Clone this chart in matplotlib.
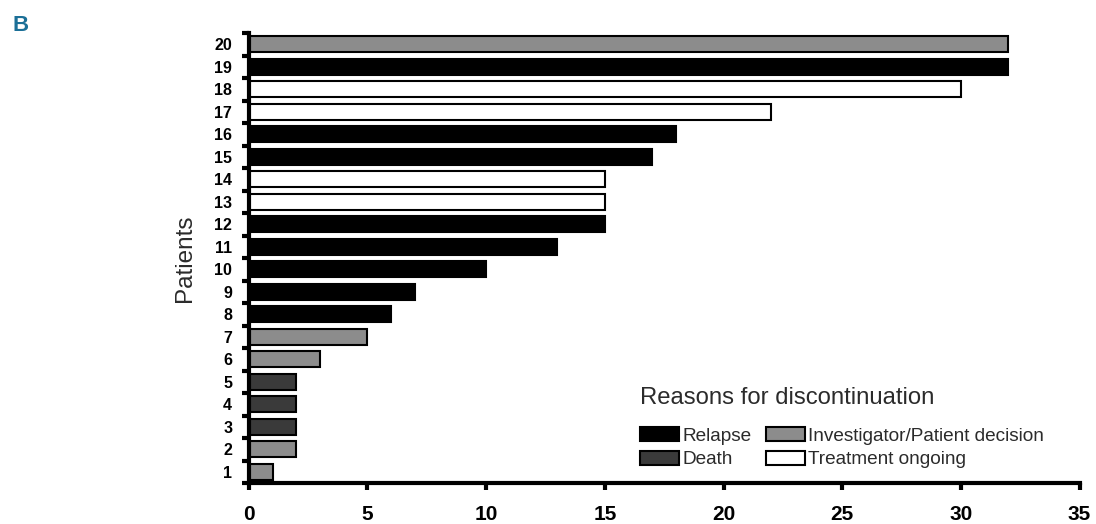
import matplotlib.pyplot as plt
from matplotlib.patches import Patch
from matplotlib.ticker import MultipleLocator, FixedLocator

patients = list(range(1, 21))
months = [1, 2, 2, 2, 2, 3, 5, 6, 7, 10, 13, 15, 15, 15, 17, 18, 22, 30, 32, 32]
reasons = ['inv', 'inv', 'death', 'death', 'death', 'inv', 'inv',
           'relapse', 'relapse', 'relapse', 'relapse', 'relapse',
           'ongoing', 'ongoing', 'relapse', 'relapse', 'ongoing', 'ongoing',
           'relapse', 'inv']

colors = {'relapse': '#000000', 'death': '#3a3a3a', 'inv': '#8c8c8c', 'ongoing': '#ffffff'}
labels = {'relapse': 'Relapse', 'death': 'Death',
          'inv': 'Investigator/Patient decision', 'ongoing': 'Treatment ongoing'}

plt.rcParams['font.family'] = 'Liberation Sans'
text_grey = '#2b2b2b'

fig = plt.figure(figsize=(10.96, 5.24), dpi=100)
ax = fig.add_axes([0.227, 0.078, 0.758, 0.859])

ax.barh(patients, months, height=0.72, color=[colors[r] for r in reasons],
        edgecolor='black', linewidth=1.5)

ax.set_xlim(0, 35)
ax.set_ylim(0.5, 20.5)
ax.xaxis.set_major_locator(MultipleLocator(5))
ax.set_yticks(patients)
ax.yaxis.set_minor_locator(FixedLocator([p + 0.5 for p in range(0, 21)]))

for s in ['top', 'right']:
    ax.spines[s].set_visible(False)
for s in ['left', 'bottom']:
    ax.spines[s].set_linewidth(3)

ax.tick_params(axis='x', direction='out', length=5, width=3, pad=10.5)
ax.tick_params(axis='y', which='major', length=0, pad=12)
ax.tick_params(axis='y', which='minor', direction='out', length=5, width=3)
for t in ax.get_xticklabels():
    t.set_fontweight('bold')
    t.set_fontsize(15)
for t in ax.get_yticklabels():
    t.set_fontweight('bold')
    t.set_fontsize(11.5)

ax.set_ylabel('Patients', fontsize=17.5, color=text_grey)
ax.yaxis.set_label_coords(-0.063, 0.5)

order = ['relapse', 'death', 'inv', 'ongoing']
handles = [Patch(facecolor=colors[k], edgecolor='black', linewidth=1.5) for k in order]
leg = fig.legend(handles, [labels[k] for k in order], ncol=2, frameon=False,
                 loc='upper left', bbox_to_anchor=(0.5757, 0.279),
                 title='Reasons for discontinuation', alignment='left',
                 prop={'size': 13.7}, borderpad=0, labelcolor=text_grey,
                 handlelength=2.05, handleheight=0.75, handletextpad=0.16,
                 columnspacing=0.74, labelspacing=0.3)
leg.get_title().set_fontsize(17.2)
leg.get_title().set_color(text_grey)
leg._legend_box.sep = 13

fig.text(0.011, 0.94, 'B', fontsize=16, fontweight='bold', color='#1b6f97')

fig.savefig('out.png', dpi=100)
